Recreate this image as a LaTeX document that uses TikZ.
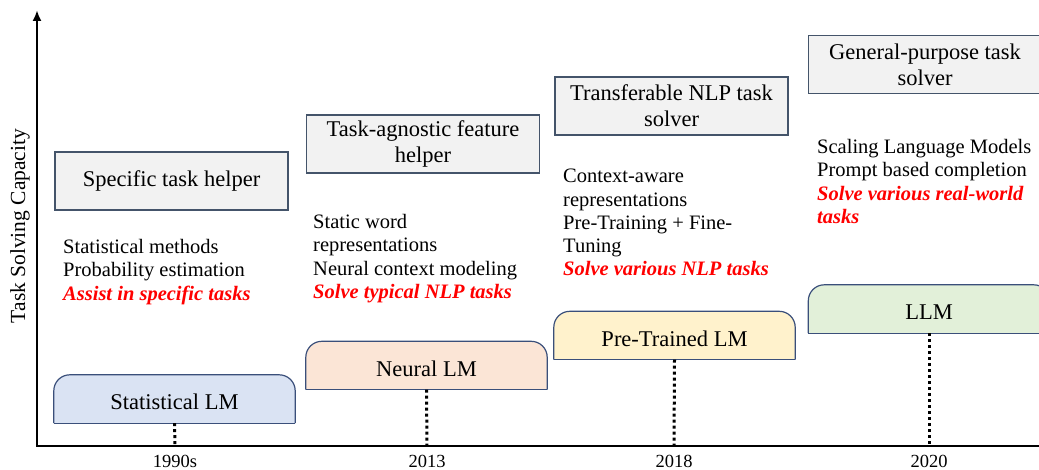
\documentclass[tikz,border=0pt]{standalone}
\usepackage{fontspec}
\setmainfont{Liberation Serif}
\usetikzlibrary{arrows.meta,backgrounds}
\definecolor{topfill}{HTML}{F2F2F2}
\definecolor{topline}{HTML}{44546A}
\definecolor{lmline}{HTML}{3A4F7A}
\definecolor{statfill}{HTML}{DAE3F3}
\definecolor{neurfill}{HTML}{FBE5D6}
\definecolor{prefill}{HTML}{FFF2CC}
\definecolor{llmfill}{HTML}{E2F0D9}
\definecolor{hlred}{HTML}{FF0000}
\begin{document}
\begin{tikzpicture}[x=1pt,y=-1pt]
\tikzset{
  topbox/.style={draw=topline, fill=topfill, line width=1.2pt, minimum width=233pt,
    minimum height=58pt, align=center, inner sep=2pt, font=\fontsize{22.5}{26}\selectfont},
  lmbox/.style={minimum width=241pt, minimum height=48pt, inner sep=0pt,
    text height=21pt, text depth=0pt, font=\fontsize{22.5}{26}\selectfont},
  lmshape/.style={draw=lmline, line width=1.2pt, rounded corners=16pt},
  desc/.style={anchor=north west, align=left, inner sep=0pt, font=\fontsize{20.5}{23.3}\selectfont},
  tickline/.style={line width=3pt, dash pattern=on 3pt off 3pt},
  yearlab/.style={font=\fontsize{18.5}{20}\selectfont},
  axisline/.style={line width=2.5pt},
}
\newcommand{\hlt}[1]{{\color{hlred}\bfseries\itshape #1}}
\useasboundingbox (0,0) rectangle (1039,470);
\clip (0,0) rectangle (1039,470);

% axes
\coordinate (O) at (37,446);
\coordinate (ytop) at (37,10);
\coordinate (xend) at (1045,446);
\draw[axisline, {Latex[length=11pt,width=9pt]}-] (ytop) -- (O) -- (xend);
\node[rotate=90, font=\fontsize{21.5}{24}\selectfont] (ylab) at (20,226) {Task Solving Capacity};

% ticks on axis
\coordinate (t1) at (175,446);
\coordinate (t2) at (427,446);
\coordinate (t3) at (674,446);
\coordinate (t4) at (929,446);
\node[yearlab] (y1) at (175,461) {1990s};
\node[yearlab] (y2) at (427,461) {2013};
\node[yearlab] (y3) at (674,461) {2018};
\node[yearlab] (y4) at (929,461) {2020};

% LM boxes
\node[lmbox] (m1) at (174.5,399) {Statistical LM};
\node[lmbox] (m2) at (426.5,365.5) {Neural LM};
\node[lmbox] (m3) at (674.5,335.5) {Pre-Trained LM};
\node[lmbox] (m4) at (929,309) {LLM};
\begin{pgfonlayer}{background}
  \clip (0,0) rectangle (1039,470);
  \path[lmshape, fill=statfill] (m1.south east) -- (m1.north east) -- (m1.north west) -- (m1.south west);
  \draw[draw=lmline, line width=1.2pt] (m1.south west) -- (m1.south east);
  \path[lmshape, fill=neurfill] (m2.south east) -- (m2.north east) -- (m2.north west) -- (m2.south west);
  \draw[draw=lmline, line width=1.2pt] (m2.south west) -- (m2.south east);
  \path[lmshape, fill=prefill] (m3.south east) -- (m3.north east) -- (m3.north west) -- (m3.south west);
  \draw[draw=lmline, line width=1.2pt] (m3.south west) -- (m3.south east);
  \path[lmshape, fill=llmfill] (m4.south east) -- (m4.north east) -- (m4.north west) -- (m4.south west);
  \draw[draw=lmline, line width=1.2pt] (m4.south west) -- (m4.south east);
\end{pgfonlayer}

\draw[tickline] (m1.south) -- (t1);
\draw[tickline] (m2.south) -- (t2);
\draw[tickline] (m3.south) -- (t3);
\draw[tickline] (m4.south) -- (t4);

% task boxes
\node[topbox] (h1) at (171.5,181) {Specific task helper};
\node[topbox] (h2) at (423,144) {Task-agnostic feature\\helper};
\node[topbox] (h3) at (671.5,106) {Transferable NLP task\\solver};
\node[topbox] (h4) at (925,64.5) {General-purpose task\\solver};

% descriptions
\node[desc] (d1) at (63,239) {Statistical methods\\Probability estimation\\\hlt{Assist in specific tasks}};
\node[desc] (d2) at (313,214) {Static word\\representations\\Neural context modeling\\\hlt{Solve typical NLP tasks}};
\node[desc] (d3) at (563,169) {Context-aware\\representations\\Pre-Training + Fine-\\Tuning\\\hlt{Solve various NLP tasks}};
\node[desc] (d4) at (817,139) {Scaling Language Models\\Prompt based completion\\\hlt{Solve various real-world}\\\hlt{tasks}};
\end{tikzpicture}
\end{document}
